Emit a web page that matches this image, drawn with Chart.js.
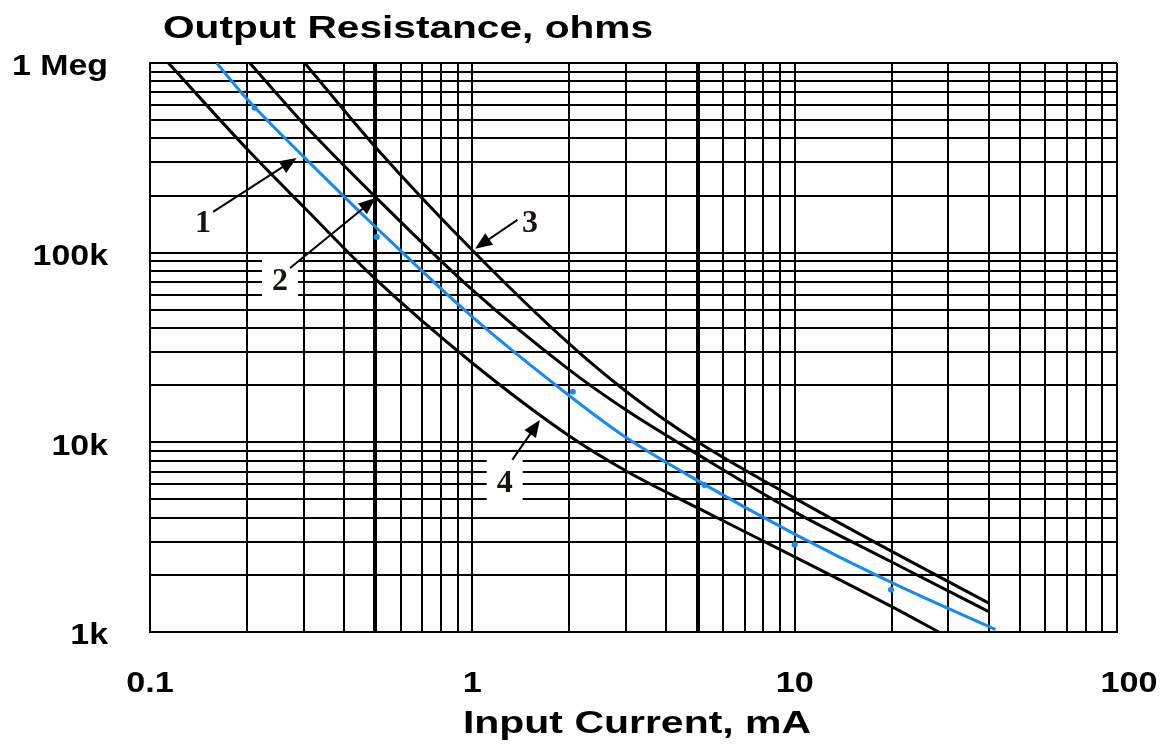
<!DOCTYPE html>
<html>
<head>
<meta charset="utf-8">
<title>Output Resistance vs Input Current</title>
<script src="https://cdn.jsdelivr.net/npm/chart.js@4.4.1/dist/chart.umd.min.js"></script>
<style>
  html, body { margin: 0; padding: 0; background: #fff; }
  #wrap { position: relative; width: 1169px; height: 744px; }
</style>
</head>
<body>
<div id="wrap"><canvas id="chart"></canvas></div>
<script>
// values: x = input current (mA), y = output resistance (ohms)
const curve1X = [0.161, 0.2, 0.3, 0.5, 1, 2, 3, 5, 10, 20, 42];           // blue
const curve1Y = [1000000, 646000, 320000, 137000, 45800, 17600, 10600, 6280, 3280, 1820, 1030];
const curve2X = [0.204, 0.3, 0.5, 1, 2, 3, 5, 10, 20, 40];
const curve2Y = [1000000, 477000, 197000, 63600, 24100, 14800, 8640, 4300, 2340, 1280];
const curve3X = [0.302, 0.5, 1, 2, 3, 5, 10, 20, 40];
const curve3Y = [1000000, 361000, 103000, 33000, 18550, 10070, 5080, 2660, 1420];
const curve4X = [0.114, 0.2, 0.3, 0.5, 1, 2, 3, 5, 10, 20, 28];
const curve4Y = [1000000, 352000, 174000, 72700, 26200, 10800, 7060, 4510, 2490, 1360, 1000];
// little blue measurement dots beside curve 1
const dotsX = [0.211, 0.505, 2.05, 5.25, 10, 19.9];
const dotsY = [580000, 121000, 18500, 5960, 2880, 1670];

const xTickValues = [0.1, 1, 10, 100];
const xTickLabels = ['0.1', '1', '10', '100'];
const yTickValues = [1000, 10000, 100000, 1000000];
const yTickLabels = ['1k', '10k', '100k', '1 Meg'];

// log grid lines 1..9 per decade
function logGrid(lo, hi) {
  const out = [];
  for (let d = lo; d < hi * 0.999; d *= 10) {
    for (let m = 1; m < 10; m++) out.push(+(m * d).toPrecision(3));
  }
  out.push(hi);
  return out;
}
const gridX = logGrid(0.1, 100);
const gridY = logGrid(1000, 1000000);

const BLUE = '#1689f2';

function pts(xs, ys) { return xs.map((x, i) => ({x: x, y: ys[i]})); }

function curve(label, xs, ys, color) {
  return {
    label: label,
    data: pts(xs, ys),
    borderColor: color,
    borderWidth: 3,
    pointRadius: 0,
    fill: false,
    cubicInterpolationMode: 'monotone'
  };
}

// callouts with arrows (data coordinates)
const callouts = [
  {text: '1', at: [0.146, 145000], from: [0.157, 164000], to: [0.285, 316000]},
  {text: '2', at: [0.253, 71800], from: [0.272, 83000], to: [0.501, 194000]},
  {text: '3', at: [1.51, 145000], from: [1.38, 149000], to: [1.02, 105000]},
  {text: '4', at: [1.26, 6180], from: [1.33, 8080], to: [1.62, 13100]}
];

function stretched(ctx, text, x, y, sx, align) {
  ctx.save();
  ctx.translate(x, y);
  ctx.scale(sx, 1);
  ctx.textAlign = align;
  ctx.fillText(text, 0, 0);
  ctx.restore();
}

function arrow(ctx, x1, y1, x2, y2) {
  const a = Math.atan2(y2 - y1, x2 - x1);
  const c = Math.cos(a), s = Math.sin(a);
  ctx.beginPath();
  ctx.moveTo(x1, y1);
  ctx.lineTo(x2 - 10 * c, y2 - 10 * s);
  ctx.stroke();
  ctx.beginPath();
  ctx.moveTo(x2, y2);
  ctx.lineTo(x2 - 17 * c + 7 * s, y2 - 17 * s - 7 * c);
  ctx.lineTo(x2 - 17 * c - 7 * s, y2 - 17 * s + 7 * c);
  ctx.closePath();
  ctx.fill();
}

const textPlugin = {
  id: 'texts',
  afterDraw(chart) {
    const ctx = chart.ctx;
    const xs = chart.scales.x, ys = chart.scales.y;
    ctx.save();
    ctx.fillStyle = '#000';
    ctx.textBaseline = 'alphabetic';

    // titles
    ctx.font = 'bold 32px "Liberation Sans", Arial, sans-serif';
    stretched(ctx, 'Output Resistance, ohms', 163, 38, 1.27, 'left');
    stretched(ctx, 'Input Current, mA', 637, 733, 1.28, 'center');

    // tick labels (last one sits a bit right of its line, like the original)
    ctx.font = 'bold 30px "Liberation Sans", Arial, sans-serif';
    xTickValues.forEach((v, i) => {
      const nudge = i === xTickValues.length - 1 ? 12 : 0;
      stretched(ctx, xTickLabels[i], xs.getPixelForValue(v) + nudge, 692, 1.14, 'center');
    });
    ctx.textBaseline = 'middle';
    yTickValues.forEach((v, i) => {
      stretched(ctx, yTickLabels[i], 108, ys.getPixelForValue(v) + 4, 1.13, 'right');
    });

    // callouts
    ctx.strokeStyle = '#000';
    ctx.lineWidth = 2;
    ctx.font = 'bold 32px "Liberation Serif", "Times New Roman", serif';
    callouts.forEach(c => {
      const cx = xs.getPixelForValue(c.at[0]), cy = ys.getPixelForValue(c.at[1]);
      ctx.fillStyle = '#fff';
      ctx.fillRect(cx - 18, cy - 23, 36, 46);
      ctx.fillStyle = '#1c1410';
      ctx.textAlign = 'center';
      ctx.textBaseline = 'middle';
      ctx.fillText(c.text, cx, cy + 2);
      ctx.fillStyle = '#000';
      arrow(ctx,
        xs.getPixelForValue(c.from[0]), ys.getPixelForValue(c.from[1]),
        xs.getPixelForValue(c.to[0]), ys.getPixelForValue(c.to[1]));
    });
    ctx.restore();
  }
};

function heavy(v) {
  return Math.abs(v - 0.5) < 1e-6 || Math.abs(v - 5) < 1e-6;
}

const ctx = document.getElementById('chart');

const myChart = new Chart(ctx, {
  type: 'line',
  data: {
    datasets: [
      curve('4', curve4X, curve4Y, '#000'),
      curve('3', curve3X, curve3Y, '#000'),
      curve('2', curve2X, curve2Y, '#000'),
      curve('1', curve1X, curve1Y, BLUE),
      {
        label: 'dots',
        data: pts(dotsX, dotsY),
        showLine: false,
        pointRadius: 3,
        pointBackgroundColor: BLUE,
        pointBorderColor: BLUE,
        pointBorderWidth: 0
      }
    ]
  },
  options: {
    responsive: true,
    maintainAspectRatio: false,
    animation: false,
    layout: { padding: { left: 150, right: 52, top: 63, bottom: 112 } },
    plugins: { legend: { display: false }, tooltip: { enabled: false } },
    scales: {
      x: {
        type: 'logarithmic',
        min: 0.1, max: 100,
        afterBuildTicks: s => { s.ticks = gridX.map(v => ({value: v})); },
        ticks: { display: false },
        grid: {
          color: '#000',
          drawTicks: false,
          lineWidth: c => (c.tick && heavy(c.tick.value)) ? 4 : 2
        },
        border: { color: '#000', width: 2 }
      },
      y: {
        type: 'logarithmic',
        min: 1000, max: 1000000,
        afterBuildTicks: s => { s.ticks = gridY.map(v => ({value: v})); },
        ticks: { display: false },
        grid: { color: '#000', drawTicks: false, lineWidth: 2 },
        border: { color: '#000', width: 2 }
      }
    }
  },
  plugins: [textPlugin]
});
</script>
</body>
</html>
